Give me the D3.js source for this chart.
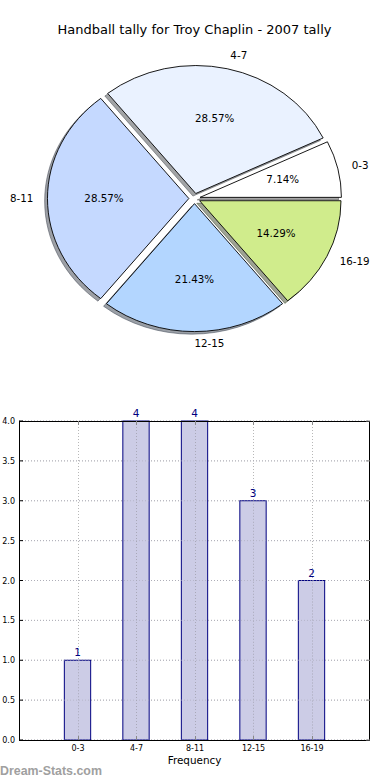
<!DOCTYPE html>
<html><head><meta charset="utf-8">
<script src="https://cdnjs.cloudflare.com/ajax/libs/d3/7.8.5/d3.min.js"></script>
<style>body{margin:0;background:#fff}svg{display:block}</style>
</head><body>
<svg id="c" width="390" height="780"></svg>
<script>
const title = "Handball tally for Troy Chaplin - 2007 tally";
const categories = ["0-3", "4-7", "8-11", "12-15", "16-19"];
const counts = [1, 4, 4, 3, 2];
const pieColors = ["#ffffff", "#eaf2ff", "#c5d9ff", "#b3d6ff", "#d0ec8c"];
const yTicks = [0, 0.5, 1, 1.5, 2, 2.5, 3, 3.5, 4];
const xLabel = "Frequency";
const watermark = "Dream-Stats.com";

(function () {
const svg = d3.select("#c");
const font = "'DejaVu Sans', sans-serif";

svg.append("text").attr("x", 194.5).attr("y", 30).attr("text-anchor", "middle")
  .attr("dominant-baseline", "middle").attr("font-family", font).attr("font-size", 13)
  .attr("fill", "#000").text(title);

const cx = 194.5, cy = 198.5, rx = 141.4, ry = 128, explode = 0.04;
const total = d3.sum(counts);
const pie = d3.pie().sort(null).startAngle(Math.PI / 2).endAngle(Math.PI / 2 - 2 * Math.PI);
const arcs = pie(counts);
const arc = d3.arc().innerRadius(0).outerRadius(1);
const pg = svg.append("g");
function offs(d) {
  const m = (d.startAngle + d.endAngle) / 2;
  return [Math.sin(m), -Math.cos(m)];
}
arcs.forEach((d, i) => {
  const [ux, uy] = offs(d);
  const c = d3.rgb(pieColors[i]);
  const sc = d3.rgb(c.r * 0.3, c.g * 0.3, c.b * 0.3);
  pg.append("path")
    .attr("transform", `translate(${cx + explode * rx * ux - 0.02 * rx},${cy + explode * ry * uy + 0.02 * ry}) scale(${rx},${ry})`)
    .attr("d", arc(d)).attr("fill", sc).attr("fill-opacity", 0.5)
    .attr("stroke", sc).attr("stroke-opacity", 0.5).attr("stroke-width", 1)
    .attr("vector-effect", "non-scaling-stroke");
});
arcs.forEach((d, i) => {
  const [ux, uy] = offs(d);
  pg.append("path")
    .attr("transform", `translate(${cx + explode * rx * ux},${cy + explode * ry * uy}) scale(${rx},${ry})`)
    .attr("d", arc(d)).attr("fill", pieColors[i])
    .attr("stroke", "#000").attr("stroke-width", 0.9)
    .attr("vector-effect", "non-scaling-stroke");
});
arcs.forEach((d, i) => {
  const [ux, uy] = offs(d);
  const ox = cx + explode * rx * ux, oy = cy + explode * ry * uy;
  pg.append("text")
    .attr("x", ox + 1.1 * rx * ux).attr("y", oy + 1.1 * ry * uy)
    .attr("text-anchor", ux >= -1e-9 ? "start" : "end")
    .attr("dominant-baseline", "middle").attr("font-family", font).attr("font-size", 10.3)
    .text(categories[i]);
  pg.append("text")
    .attr("x", ox + 0.6 * rx * ux).attr("y", oy + 0.6 * ry * uy)
    .attr("text-anchor", "middle")
    .attr("dominant-baseline", "middle").attr("font-family", font).attr("font-size", 10.3)
    .text((counts[i] / total * 100).toFixed(2) + "%");
});

const pl = 19, pr = 370, pt = 421, pb = 740;
const x = d3.scaleLinear().domain([0, categories.length + 1]).range([pl, pr]);
const y = d3.scaleLinear().domain([0, 4]).range([pb, pt]);
const bw = 0.45;
const bg = svg.append("g");
const gx = (d, i) => Math.round(x(i + 1)) + 0.5;

bg.selectAll(".gy").data(yTicks).join("line")
  .attr("x1", pl).attr("x2", pr).attr("y1", d => y(d)).attr("y2", d => y(d))
  .attr("stroke", "#b8b8b8").attr("stroke-width", 1).attr("stroke-dasharray", "1,2");
bg.selectAll(".gx").data(categories).join("line")
  .attr("x1", gx).attr("x2", gx).attr("y1", pt).attr("y2", pb)
  .attr("stroke", "#b8b8b8").attr("stroke-width", 1).attr("stroke-dasharray", "1,2");

bg.selectAll(".bar").data(counts).join("rect")
  .attr("x", (d, i) => x(i + 1 - bw / 2)).attr("width", x(bw) - x(0))
  .attr("y", d => y(d)).attr("height", d => y(0) - y(d))
  .attr("fill", "#cccce6")
  .attr("stroke", "#000080").attr("stroke-width", 1);
bg.selectAll(".gx2").data(counts).join("line")
  .attr("x1", gx).attr("x2", gx).attr("y1", d => y(d)).attr("y2", pb)
  .attr("stroke", "#a8a8b8").attr("stroke-width", 1).attr("stroke-dasharray", "1,2");
bg.selectAll(".gy2").data(yTicks).join("line")
  .attr("x1", pl).attr("x2", pr).attr("y1", d => y(d)).attr("y2", d => y(d))
  .attr("stroke", "#a8a8b8").attr("stroke-width", 1).attr("stroke-dasharray", "1,2")
  .attr("opacity", 0.6);

bg.selectAll(".vl").data(counts).join("text")
  .attr("x", (d, i) => x(i + 1)).attr("y", d => y(d) - 4)
  .attr("text-anchor", "middle").attr("font-family", font).attr("font-size", 10.5)
  .attr("fill", "#000080").text(d => d);

bg.append("rect").attr("x", pl + 0.5).attr("y", pt + 0.5)
  .attr("width", pr - pl - 1).attr("height", pb - pt)
  .attr("fill", "none").attr("stroke", "#000").attr("stroke-width", 1);

const yAxis = d3.axisLeft(y).tickValues(yTicks).tickFormat(d3.format(".1f")).tickSize(0).tickPadding(4);
const ya = bg.append("g").attr("transform", `translate(${pl},0)`).call(yAxis);
ya.select(".domain").remove();
ya.selectAll("text").attr("font-family", font).attr("font-size", 8).attr("fill", "#000");
bg.selectAll(".tl").data(yTicks).join("line")
  .attr("x1", pl).attr("x2", pl + 4).attr("y1", d => y(d)).attr("y2", d => y(d))
  .attr("stroke", "#000");
bg.selectAll(".tr").data(yTicks).join("line")
  .attr("x1", pr - 4).attr("x2", pr).attr("y1", d => y(d)).attr("y2", d => y(d))
  .attr("stroke", "#888");

const xAxis = d3.axisBottom(x).tickValues(d3.range(1, categories.length + 1))
  .tickFormat(d => categories[d - 1]).tickSize(0).tickPadding(5);
const xa = bg.append("g").attr("transform", `translate(0,${pb})`).call(xAxis);
xa.select(".domain").remove();
xa.selectAll("text").attr("font-family", font).attr("font-size", 8).attr("fill", "#000");
bg.selectAll(".tb").data(categories).join("line")
  .attr("x1", gx).attr("x2", gx).attr("y1", pb - 4).attr("y2", pb).attr("stroke", "#888");
bg.selectAll(".tt").data(categories).join("line")
  .attr("x1", gx).attr("x2", gx).attr("y1", pt).attr("y2", pt + 4).attr("stroke", "#888");

svg.append("text").attr("x", (pl + pr) / 2).attr("y", 764).attr("text-anchor", "middle")
  .attr("font-family", font).attr("font-size", 10.4).attr("fill", "#000").text(xLabel);

svg.append("text").attr("x", 0).attr("y", 775)
  .attr("font-family", "'Liberation Sans', Arial, sans-serif").attr("font-weight", "bold")
  .attr("font-size", 12.4).attr("fill", "#a0a0a0").text(watermark);
})();
</script>
</body></html>
